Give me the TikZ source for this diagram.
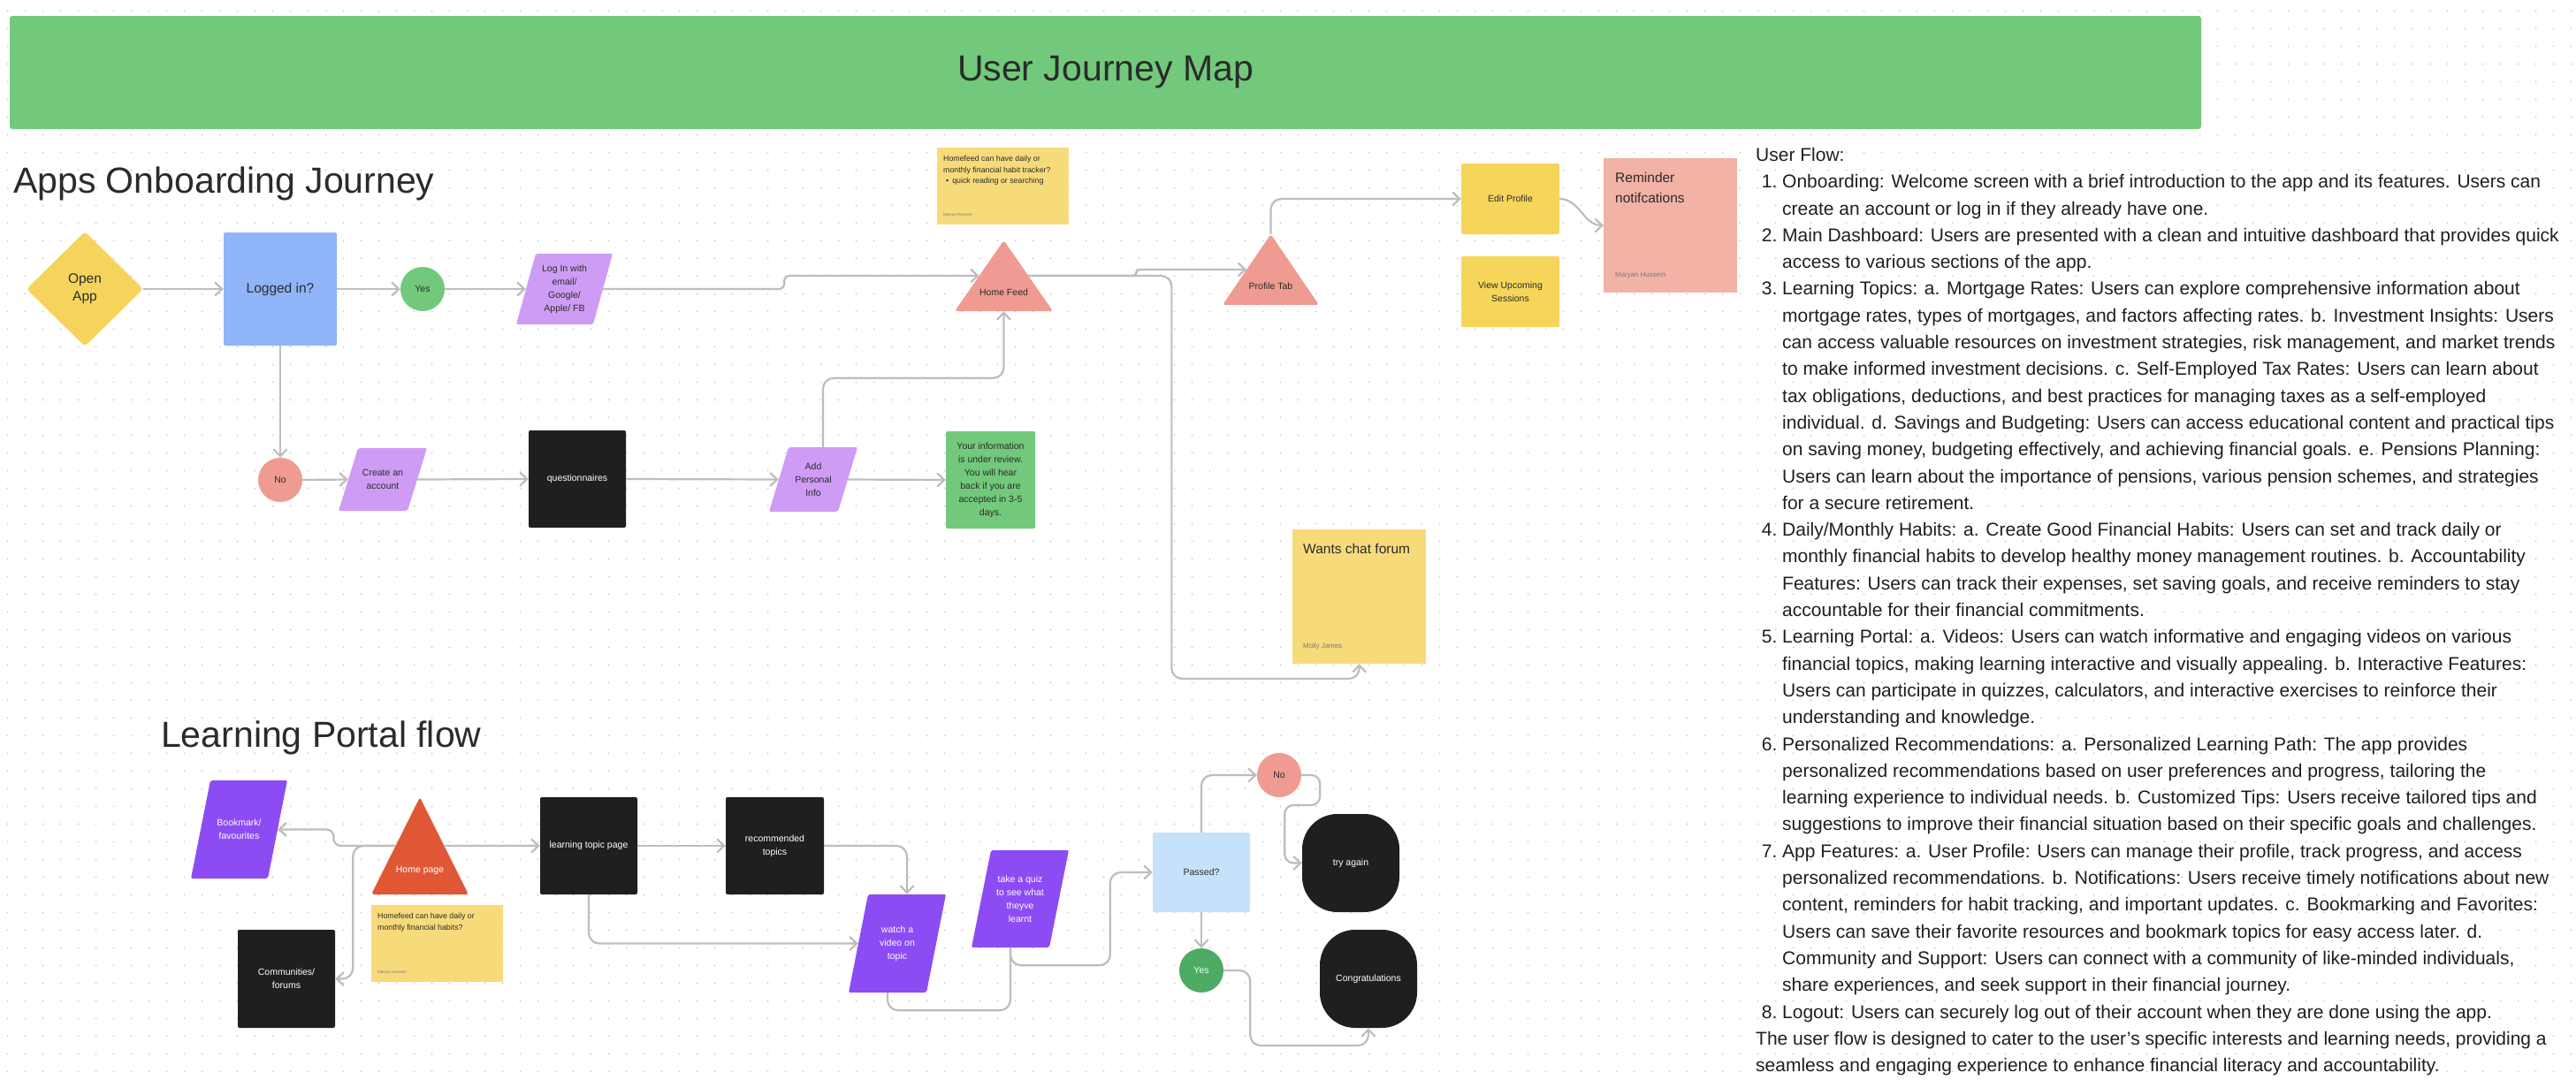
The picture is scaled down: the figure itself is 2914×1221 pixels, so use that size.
\documentclass[tikz,border=0pt]{standalone}
\usepackage{fontspec}
\setmainfont{Liberation Sans}
\usetikzlibrary{shapes.geometric,arrows.meta,calc,patterns.meta}

\definecolor{barGreen}{HTML}{72C97B}
\definecolor{ink}{HTML}{2B2B2B}
\definecolor{wire}{HTML}{BDBDBD}
\definecolor{gridDot}{HTML}{D0D0D0}
\definecolor{openYellow}{HTML}{F6D45C}
\definecolor{loginBlue}{HTML}{8FB5F8}
\definecolor{lilac}{HTML}{CF9CF5}
\definecolor{salmon}{HTML}{EF9B91}
\definecolor{nearBlack}{HTML}{1F1F1F}
\definecolor{stickyYellow}{HTML}{F7DA7A}
\definecolor{tabYellow}{HTML}{F6D55B}
\definecolor{stickyPink}{HTML}{F2B2A6}
\definecolor{deepPurple}{HTML}{8D4CF3}
\definecolor{homeOrange}{HTML}{E05736}
\definecolor{paleBlue}{HTML}{C6E2FB}
\definecolor{darkGreen}{HTML}{4DAB63}
\definecolor{authorGray}{HTML}{7A7A7A}

\newcommand{\fhead}{\fontsize{41}{49}\selectfont}
\newcommand{\fmid}{\fontsize{15.5}{20}\selectfont}
\newcommand{\fsmall}{\fontsize{10.5}{15}\selectfont}
\newcommand{\fnote}{\fontsize{8.8}{12.7}\selectfont}
\newcommand{\ftiny}{\fontsize{4.5}{5}\selectfont}
\newcommand{\fsticky}{\fontsize{15.5}{22.7}\selectfont}
\newcommand{\fauthor}{\fontsize{7.9}{9}\selectfont}
\newcommand{\fflow}{\fontsize{21}{30.3}\selectfont}
\newcommand{\stickytext}[4]{\parbox[c][#2][s]{#1}{\raggedright#3\par\vfill#4}}
\newcommand{\itemno}[1]{\makebox[30pt][r]{#1\ }}
\newcommand{\indentline}{\hspace*{30pt}}

\tikzdeclarepattern{
  name=canvasdots,
  type=uncolored,
  bounding box={(0pt,0pt) and (20pt,20pt)},
  tile size={(20pt,20pt)},
  code={\pgfpathcircle{\pgfpoint{10pt}{10pt}}{1.1pt}\pgfusepath{fill}}
}

\begin{document}
\begin{tikzpicture}[x=1pt, y=-1pt,
    flowarrow/.style={draw=wire, line width=2.2pt, rounded corners=12pt, -{Straight Barb[length=8pt,width=15pt]}},
    wireline/.style={draw=wire, line width=2.2pt, rounded corners=12pt},
    box/.style={rectangle, fill=#1, rounded corners=2pt, minimum width=110pt, minimum height=110pt, inner sep=2pt, align=center, font=\fsmall, text=ink},
    pill/.style={rectangle, fill=nearBlack, rounded corners=40pt, minimum width=110pt, minimum height=111pt, inner sep=2pt, font=\fsmall, text=white},
    bubble/.style={circle, fill=#1, minimum size=50pt, inner sep=0pt, font=\fsmall, text=ink},
    para/.style={rectangle, minimum width=110pt, minimum height=110pt, inner sep=2pt, align=center, font=\fsmall, text=ink,
        path picture={\fill [#1, rounded corners=2pt] (path picture bounding box.south west) -- ([xshift=22pt]path picture bounding box.north west) -- (path picture bounding box.north east) -- ([xshift=-22pt]path picture bounding box.south east) -- cycle;}},
    tri/.style={rectangle, minimum width=110pt, minimum height=80pt, inner sep=0pt, text height=46pt, text depth=2pt, font=\fsmall, text=ink,
        path picture={\fill [#1, rounded corners=3pt] (path picture bounding box.south west) -- (path picture bounding box.north) -- (path picture bounding box.south east) -- cycle;}},
    note/.style={rectangle, fill=#1, anchor=north west, inner xsep=7pt, inner ysep=9pt},
    heading/.style={anchor=base west, inner sep=0pt, font=\fhead, text=ink}]

    \fill [white] (0, 0) rectangle (2914, 1221);
    \fill [pattern=canvasdots, pattern color=gridDot] (0, 0) rectangle (2914, 1221);
    \useasboundingbox (0, 0) rectangle (2914, 1221);

    \node [fill=barGreen, rounded corners=3pt, minimum width=2479pt, minimum height=128pt, font=\fhead, text=ink] (title) at (1250.5, 82) {User Journey Map};
    \node [heading] (onboard) at (15, 218) {Apps Onboarding Journey};
    \node [heading] (portal) at (182, 845) {Learning Portal flow};

    \node [diamond, fill=openYellow, rounded corners=4pt, minimum width=132pt, minimum height=130pt, inner sep=0pt, align=center, font=\fmid, text=ink] (open) at (96, 327) {Open\\App};
    \node [box=loginBlue, minimum width=128pt, minimum height=128pt, font=\fmid] (logged) at (317, 327) {Logged in?};
    \node [bubble=barGreen] (yes) at (478, 327) {Yes};
    \node [para=lilac, minimum width=109pt, minimum height=80pt] (login) at (638.5, 327) {Log In with\\email/\\Google/\\Apple/ FB};
    \node [bubble=salmon] (no) at (317, 543) {No};
    \node [para=lilac, minimum width=100pt, minimum height=71pt] (create) at (433, 542.5) {Create an\\account};
    \node [box=nearBlack, text=white] (quest) at (653, 542) {questionnaires};
    \node [para=lilac, minimum width=100pt, minimum height=73pt] (personal) at (920, 542.5) {Add\\Personal\\Info};
    \node [box=barGreen, minimum width=101pt] (review) at (1120.5, 543) {Your information\\is under review.\\You will hear\\back if you are\\accepted in 3-5\\days.};
    \node [tri=salmon, minimum width=111pt] (feed) at (1135.5, 312) {Home Feed};
    \node [tri=salmon, minimum width=109pt] (profile) at (1437.5, 305) {Profile Tab};
    \node [box=tabYellow, minimum width=111pt, minimum height=80pt] (edit) at (1708.5, 225) {Edit Profile};
    \node [box=tabYellow, minimum width=111pt, minimum height=80pt] (sessions) at (1708.5, 330) {View Upcoming\\Sessions};

    \node [note=stickyYellow] (feednote) at (1060, 167) {\stickytext{135pt}{68pt}{\fnote\color{ink}Homefeed can have daily or\\monthly financial habit tracker?\\\hspace*{3pt}\textbullet\hspace{4pt}quick reading or searching}{\ftiny\color{authorGray}Maryan Hussein}};
    \node [note=stickyPink, inner xsep=13pt, inner ysep=16pt] (remind) at (1814, 179) {\stickytext{125pt}{118pt}{\fsticky\color{ink}Reminder\\notifcations}{\fauthor\color{authorGray}Maryan Hussein}};
    \node [note=stickyYellow, inner xsep=12pt, inner ysep=16pt] (chat) at (1462, 599) {\stickytext{127pt}{118pt}{\fsticky\color{ink}\mbox{Wants chat forum}}{\fauthor\color{authorGray}Molly James}};

    \node [para=deepPurple, minimum width=109pt, minimum height=111pt, text=white] (bookmark) at (270.5, 938.5) {Bookmark/\\favourites};
    \node [tri=homeOrange, minimum height=110pt, text height=62pt, text=white] (home) at (475, 957) {Home page};
    \node [note=stickyYellow] (homenote) at (420, 1024) {\stickytext{135pt}{68pt}{\fnote\color{ink}Homefeed can have daily or\\monthly financial habits?}{\ftiny\color{authorGray}Maryan Hussein}};
    \node [box=nearBlack, minimum height=111pt, text=white] (forums) at (324, 1107.5) {Communities/\\forums};
    \node [box=nearBlack, text=white] (topic) at (666, 957) {learning topic page};
    \node [box=nearBlack, minimum width=111pt, text=white] (recom) at (876.5, 957) {recommended\\topics};
    \node [para=deepPurple, minimum height=111pt, text=white] (video) at (1015, 1067.5) {watch a\\video on\\topic};
    \node [para=deepPurple, text=white] (quiz) at (1154, 1017) {take a quiz\\to see what\\theyve\\learnt};
    \node [box=paleBlue, minimum height=90pt] (passed) at (1359, 987) {Passed?};
    \node [bubble=salmon] (no2) at (1447, 877) {No};
    \node [pill] (again) at (1528, 976.5) {try again};
    \node [bubble=darkGreen, text=white] (yes2) at (1359, 1098) {Yes};
    \node [pill] (congrats) at (1548, 1107.5) {Congratulations};

    \node [anchor=north west, inner sep=0pt, align=left, font=\fflow, text=nearBlack] (userflow) at (1986, 167) {User Flow:\\
        \itemno{1.}Onboarding: Welcome screen with a brief introduction to the app and its features. Users can\\
        \indentline create an account or log in if they already have one.\\
        \itemno{2.}Main Dashboard: Users are presented with a clean and intuitive dashboard that provides quick\\
        \indentline access to various sections of the app.\\
        \itemno{3.}Learning Topics: a. Mortgage Rates: Users can explore comprehensive information about\\
        \indentline mortgage rates, types of mortgages, and factors affecting rates. b. Investment Insights: Users\\
        \indentline can access valuable resources on investment strategies, risk management, and market trends\\
        \indentline to make informed investment decisions. c. Self-Employed Tax Rates: Users can learn about\\
        \indentline tax obligations, deductions, and best practices for managing taxes as a self-employed\\
        \indentline individual. d. Savings and Budgeting: Users can access educational content and practical tips\\
        \indentline on saving money, budgeting effectively, and achieving financial goals. e. Pensions Planning:\\
        \indentline Users can learn about the importance of pensions, various pension schemes, and strategies\\
        \indentline for a secure retirement.\\
        \itemno{4.}Daily/Monthly Habits: a. Create Good Financial Habits: Users can set and track daily or\\
        \indentline monthly financial habits to develop healthy money management routines. b. Accountability\\
        \indentline Features: Users can track their expenses, set saving goals, and receive reminders to stay\\
        \indentline accountable for their financial commitments.\\
        \itemno{5.}Learning Portal: a. Videos: Users can watch informative and engaging videos on various\\
        \indentline financial topics, making learning interactive and visually appealing. b. Interactive Features:\\
        \indentline Users can participate in quizzes, calculators, and interactive exercises to reinforce their\\
        \indentline understanding and knowledge.\\
        \itemno{6.}Personalized Recommendations: a. Personalized Learning Path: The app provides\\
        \indentline personalized recommendations based on user preferences and progress, tailoring the\\
        \indentline learning experience to individual needs. b. Customized Tips: Users receive tailored tips and\\
        \indentline suggestions to improve their financial situation based on their specific goals and challenges.\\
        \itemno{7.}App Features: a. User Profile: Users can manage their profile, track progress, and access\\
        \indentline personalized recommendations. b. Notifications: Users receive timely notifications about new\\
        \indentline content, reminders for habit tracking, and important updates. c. Bookmarking and Favorites:\\
        \indentline Users can save their favorite resources and bookmark topics for easy access later. d.\\
        \indentline Community and Support: Users can connect with a community of like-minded individuals,\\
        \indentline share experiences, and seek support in their financial journey.\\
        \itemno{8.}Logout: Users can securely log out of their account when they are done using the app.\\
        The user flow is designed to cater to the user's specific interests and learning needs, providing a\\
        seamless and engaging experience to enhance financial literacy and accountability.};

    \coordinate (fl) at ($(feed.north)!.5!(feed.south west)$);
    \coordinate (fr) at ($(feed.north)!.5!(feed.south east)$);
    \coordinate (pl) at ($(profile.north)!.5!(profile.south west)$);
    \coordinate (hl) at ($(home.north)!.5!(home.south west)$);
    \coordinate (hr) at ($(home.north)!.5!(home.south east)$);

    \draw [flowarrow] (open.east) -- (logged.west);
    \draw [flowarrow] (logged.east) -- (yes.west);
    \draw [flowarrow] (yes.east) -- ([xshift=11pt]login.west);
    \draw [flowarrow, rounded corners=6pt] ([xshift=-11pt]login.east) -- ++(205, 0) |- (fl);
    \draw [flowarrow] (logged.south) -- (no.north);
    \draw [flowarrow] (no.east) -- ([xshift=11pt]create.west);
    \draw [flowarrow] ([xshift=-11pt]create.east) -- (quest.west);
    \draw [flowarrow] (quest.east) -- ([xshift=11pt]personal.west);
    \draw [flowarrow] ([xshift=-11pt]personal.east) -- (review.west);
    \draw [flowarrow] ([xshift=11pt]personal.north) -- ++(0, -78) -| (feed.south);
    \draw [flowarrow, rounded corners=4pt] (fr) -- ++(122, 0) |- (pl);
    \draw [flowarrow] (fr) -- ++(162, 0) -- ++(0, 456) -| (chat.south);
    \draw [flowarrow] (profile.north) |- (edit.west);
    \draw [flowarrow] (edit.east) to [out=0, in=180] (remind.west);

    \draw [flowarrow] (hr) -- (topic.west);
    \draw [flowarrow, rounded corners=8pt] (hl) -- ++(-70, 0) |- ([xshift=-11pt]bookmark.east);
    \draw [flowarrow] (hl) -| ([xshift=20pt]forums.east) -- (forums.east);
    \draw [flowarrow] (topic.east) -- (recom.west);
    \draw [flowarrow] (recom.east) -| ([xshift=11pt]video.north);
    \draw [flowarrow] (topic.south) |- ([xshift=11pt]video.west);
    \draw [wireline] ([xshift=-11pt]video.south) -- ++(0, 20) -| ([xshift=-11pt]quiz.south);
    \draw [flowarrow] ([xshift=-11pt]quiz.south) -- ++(0, 20) -| ([xshift=-48pt]passed.west) -- (passed.west);
    \draw [flowarrow] (passed.north) |- (no2.west);
    \draw [flowarrow, rounded corners=10pt] (no2.east) -- ++(21, 0) -- ++(0, 34) -- ++(-40, 0) |- (again.west);
    \draw [flowarrow] (passed.south) -- (yes2.north);
    \draw [flowarrow] (yes2.east) -- ++(30, 0) -- ++(0, 85) -| (congrats.south);
\end{tikzpicture}
\end{document}
